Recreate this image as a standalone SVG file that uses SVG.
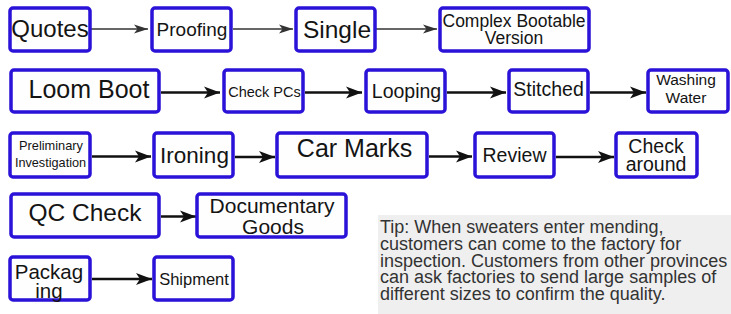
<svg xmlns="http://www.w3.org/2000/svg" width="731" height="314" viewBox="0 0 731 314">
<style>
.box{fill:#fefefe;stroke:#2a12d8;stroke-width:3.5}
.t{font-family:"Liberation Sans",Arial,sans-serif;fill:#141414;text-anchor:middle}
.thin{stroke:#333;stroke-width:1.6;fill:none}
.thick{stroke:#111;stroke-width:2.6;fill:none}
.tip{font-family:"Liberation Sans",Arial,sans-serif;fill:#333;font-size:18px}
</style>
<defs>
<marker id="ah1" markerUnits="userSpaceOnUse" markerWidth="16" markerHeight="12" refX="14" refY="6" orient="auto">
<path d="M0,1.5 L14,6 L0,10.5 L3.5,6 Z" fill="#333"/>
</marker>
<marker id="ah2" markerUnits="userSpaceOnUse" markerWidth="18" markerHeight="14" refX="16" refY="7" orient="auto">
<path d="M0,1 L16,7 L0,13 L4,7 Z" fill="#111"/>
</marker>
</defs>
<rect width="731" height="314" fill="#ffffff"/>
<rect x="378" y="215" width="353" height="99" fill="#efefef"/>
<g id="tip">
<text class="tip" x="380" y="232.5">Tip: When sweaters enter mending,</text>
<text class="tip" x="380" y="249.5">customers can come to the factory for</text>
<text class="tip" x="380" y="266.5">inspection. Customers from other provinces</text>
<text class="tip" x="380" y="283">can ask factories to send large samples of</text>
<text class="tip" x="380" y="300">different sizes to confirm the quality.</text>
</g>
<g id="connectors">
<line class="thin" x1="91" y1="29" x2="148" y2="29" marker-end="url(#ah1)"/>
<line class="thin" x1="233" y1="29" x2="293" y2="29" marker-end="url(#ah1)"/>
<line class="thin" x1="376" y1="29" x2="437" y2="29" marker-end="url(#ah1)"/>
<line class="thick" x1="161" y1="92.5" x2="220" y2="92.5" marker-end="url(#ah2)"/>
<line class="thick" x1="305" y1="92.5" x2="362" y2="92.5" marker-end="url(#ah2)"/>
<line class="thick" x1="447" y1="92.5" x2="506" y2="92.5" marker-end="url(#ah2)"/>
<line class="thick" x1="590" y1="92.5" x2="646" y2="92.5" marker-end="url(#ah2)"/>
<line class="thick" x1="92" y1="156.5" x2="151" y2="156.5" marker-end="url(#ah2)"/>
<line class="thick" x1="235" y1="157" x2="275" y2="157" marker-end="url(#ah2)"/>
<line class="thick" x1="429" y1="156.5" x2="472" y2="156.5" marker-end="url(#ah2)"/>
<line class="thick" x1="556" y1="157" x2="614" y2="157" marker-end="url(#ah2)"/>
<line class="thick" x1="161" y1="216.5" x2="196" y2="216.5" marker-end="url(#ah2)"/>
<line class="thick" x1="92" y1="279" x2="152" y2="279" marker-end="url(#ah2)"/>
</g>
<g id="quotes"><rect class="box" x="10" y="8" width="80" height="43" rx="3"/><text class="t" x="50" y="37" font-size="24">Quotes</text></g>
<g id="proofing"><rect class="box" x="152" y="8" width="79" height="43" rx="3"/><text class="t" x="192" y="35.5" font-size="19">Proofing</text></g>
<g id="single"><rect class="box" x="296" y="8" width="79" height="43" rx="3"/><text class="t" x="337" y="38" font-size="24.5">Single</text></g>
<g id="complex"><rect class="box" x="440" y="8" width="149" height="43" rx="3"/><text class="t" x="514" y="27" font-size="17.5">Complex Bootable</text><text class="t" x="514" y="44" font-size="17.5">Version</text></g>
<g id="loom"><rect class="box" x="11" y="70" width="148" height="42" rx="3"/><text class="t" x="89" y="97.5" font-size="25">Loom Boot</text></g>
<g id="checkpcs"><rect class="box" x="224" y="70" width="79" height="42" rx="3"/><text class="t" x="264.5" y="97" font-size="14.5">Check PCs</text></g>
<g id="looping"><rect class="box" x="366" y="70" width="79" height="42" rx="3"/><text class="t" x="406.5" y="97.5" font-size="19.5">Looping</text></g>
<g id="stitched"><rect class="box" x="509" y="70" width="79" height="42" rx="3"/><text class="t" x="548.5" y="95.5" font-size="19.5">Stitched</text></g>
<g id="washing"><rect class="box" x="648" y="70" width="80" height="42" rx="3"/><text class="t" x="686" y="85" font-size="15.5">Washing</text><text class="t" x="686" y="102.5" font-size="15.5">Water</text></g>
<g id="prelim"><rect class="box" x="10" y="133" width="80" height="44" rx="3"/><text class="t" x="51" y="150" font-size="12.8">Preliminary</text><text class="t" x="50.5" y="166.5" font-size="12.7">Investigation</text></g>
<g id="ironing"><rect class="box" x="154" y="133" width="79" height="44" rx="3"/><text class="t" x="194.5" y="163" font-size="22.5">Ironing</text></g>
<g id="carmarks"><rect class="box" x="277" y="133" width="150" height="44" rx="3"/><text class="t" x="354.5" y="157" font-size="25">Car Marks</text></g>
<g id="review"><rect class="box" x="475" y="133" width="79" height="44" rx="3"/><text class="t" x="514.5" y="162" font-size="19.5">Review</text></g>
<g id="checkaround"><rect class="box" x="616" y="133" width="81" height="44" rx="3"/><text class="t" x="656" y="153" font-size="19.5">Check</text><text class="t" x="656" y="171" font-size="19.5">around</text></g>
<g id="qccheck"><rect class="box" x="11" y="194" width="148" height="43" rx="3"/><text class="t" x="85" y="221" font-size="24.5">QC Check</text></g>
<g id="documentary"><rect class="box" x="197" y="194" width="149" height="43" rx="3"/><text class="t" x="272" y="213" font-size="21">Documentary</text><text class="t" x="273" y="233.5" font-size="21">Goods</text></g>
<g id="packaging"><rect class="box" x="10" y="257" width="80" height="43" rx="3"/><text class="t" x="49" y="279" font-size="20.5">Packag</text><text class="t" x="49" y="298" font-size="20.5">ing</text></g>
<g id="shipment"><rect class="box" x="154" y="257" width="79" height="43" rx="3"/><text class="t" x="194" y="285" font-size="16.5">Shipment</text></g>
</svg>
